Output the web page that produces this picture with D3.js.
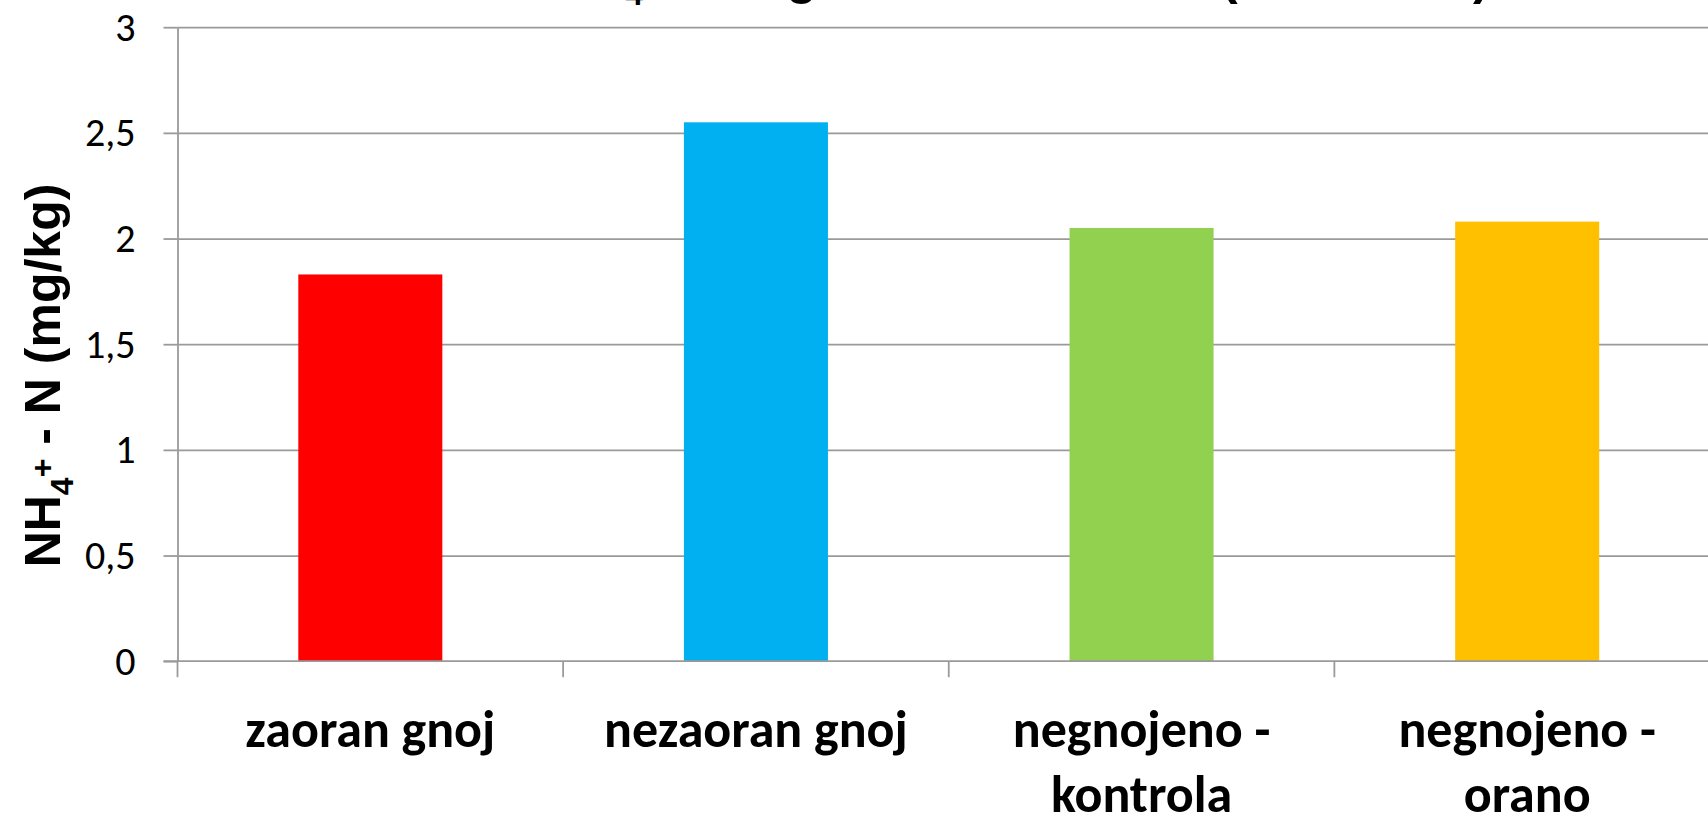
<!DOCTYPE html>
<html>
<head>
<meta charset="utf-8">
<script src="https://cdn.jsdelivr.net/npm/d3@7"></script>
<style>
  body { margin: 0; background: #ffffff; overflow: hidden; }
  svg { display: block; }
</style>
</head>
<body>
<svg id="chart" width="1708" height="815"></svg>
<script>
// NH4+ - N content by treatment
const categories = ["zaoran gnoj", "nezaoran gnoj", "negnojeno - kontrola", "negnojeno - orano"];
const values = [1.83, 2.55, 2.05, 2.08];
const barColors = ["#FF0000", "#00B0F0", "#92D050", "#FFC000"];
const yTicks = [0, 0.5, 1, 1.5, 2, 2.5, 3];

const svg = d3.select("#chart");
const plot = { left: 177.5, right: 1720, top: 27.2, bottom: 661.2 };
const gridColor = "#9a9a9a";
const labelFont = "Carlito, Calibri, Lato, sans-serif";
const titleFont = "'Liberation Sans', Arial, sans-serif";

const y = d3.scaleLinear().domain([0, 3]).range([plot.bottom, plot.top]);
const band = d3.scaleBand().domain(categories).range([plot.left, plot.right]);
const x = d3.scaleBand().domain(categories).range([plot.left, plot.right])
  .paddingInner(0.6265).paddingOuter(0.31325);

const comma = d3.formatLocale({ decimal: ",", thousands: ".", grouping: [3], currency: ["", ""] }).format(".1~f");

// horizontal gridlines
svg.append("g")
  .attr("transform", `translate(${plot.left},0)`)
  .call(d3.axisLeft(y).tickValues(yTicks.filter(v => v > 0)).tickSize(-(plot.right - plot.left)).tickFormat(""))
  .call(g => g.select(".domain").remove())
  .call(g => g.selectAll("line").attr("stroke", gridColor).attr("stroke-width", 1.8));

// bars
svg.append("g").selectAll("rect")
  .data(categories)
  .join("rect")
  .attr("x", d => x(d))
  .attr("width", x.bandwidth())
  .attr("y", (d, i) => y(values[i]))
  .attr("height", (d, i) => y(0) - y(values[i]))
  .attr("fill", (d, i) => barColors[i]);

// value axis
svg.append("g")
  .attr("transform", `translate(${plot.left},0)`)
  .call(d3.axisLeft(y).tickValues(yTicks).tickSize(14).tickSizeOuter(0).tickPadding(28).tickFormat(comma))
  .call(g => g.select(".domain").attr("stroke", gridColor).attr("stroke-width", 1.8))
  .call(g => g.selectAll(".tick line").attr("stroke", gridColor).attr("stroke-width", 1.8))
  .call(g => g.selectAll(".tick text")
    .attr("fill", "#000")
    .style("font-family", labelFont)
    .style("font-size", "40px"));

// category axis: baseline plus ticks between categories
const catAxis = svg.append("g");
catAxis.append("line")
  .attr("x1", plot.left - 14).attr("x2", plot.right)
  .attr("y1", y(0)).attr("y2", y(0))
  .attr("stroke", gridColor).attr("stroke-width", 1.8);
const edges = categories.map(c => band(c)).concat([band.range()[1]]);
catAxis.selectAll("line.edge")
  .data(edges)
  .join("line")
  .attr("class", "edge")
  .attr("x1", d => d).attr("x2", d => d)
  .attr("y1", y(0)).attr("y2", y(0) + 16)
  .attr("stroke", gridColor).attr("stroke-width", 1.8);

// category labels, wrapped after the dash
const wrap = s => s.includes(" - ") ? [s.split(" - ")[0] + " -", s.split(" - ")[1]] : [s];
const catLabels = catAxis.selectAll("text.cat")
  .data(categories)
  .join("text")
  .attr("class", "cat")
  .attr("text-anchor", "middle")
  .style("font-family", labelFont)
  .style("font-weight", "bold")
  .style("font-size", "52px")
  .attr("fill", "#000");
catLabels.selectAll("tspan")
  .data(d => wrap(d).map(line => ({ line, c: d })))
  .join("tspan")
  .attr("x", d => band(d.c) + band.bandwidth() / 2)
  .attr("y", (d, i) => 746.5 + i * 65)
  .text(d => d.line);

// value axis title
const yTitle = svg.append("text")
  .attr("transform", "translate(60,375.5) rotate(-90)")
  .attr("text-anchor", "middle")
  .style("font-family", titleFont)
  .style("font-weight", "bold")
  .style("font-size", "50px")
  .attr("fill", "#000");
yTitle.append("tspan").text("NH");
yTitle.append("tspan").attr("dy", 13).style("font-size", "32px").text("4");
yTitle.append("tspan").attr("dy", -20).style("font-size", "32px").text("+");
yTitle.append("tspan").attr("dy", 7).text(" - N (mg/kg)");

// chart title (mostly above the visible area)
const title = svg.append("text")
  .attr("x", 314).attr("y", -6)
  .style("font-family", titleFont)
  .style("font-weight", "bold")
  .style("font-size", "50px")
  .attr("fill", "#000");
title.append("tspan").text("Vsebnost NH");
title.append("tspan").attr("dy", 11).style("font-size", "32px").text("4");
title.append("tspan").attr("dy", -20).style("font-size", "32px").text("+");
title.append("tspan").attr("dy", 9).style("letter-spacing", "-1.6px").text(" - N v ");
title.append("tspan").style("letter-spacing", "1.6px").text("globini 0 - 30 cm ");
title.append("tspan").style("letter-spacing", "2.4px").text("(leto 2011)");
</script>
</body>
</html>
